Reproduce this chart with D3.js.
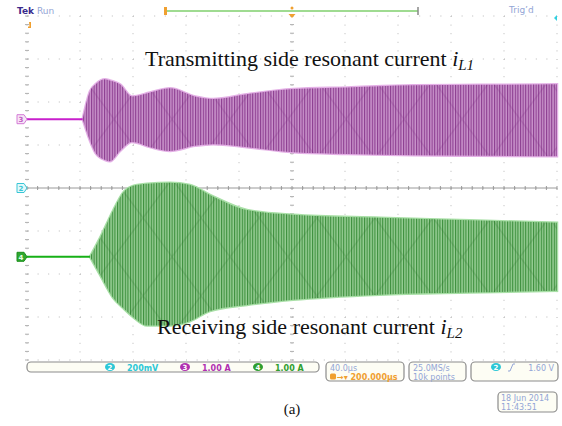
<!DOCTYPE html>
<html>
<head>
<meta charset="utf-8">
<script src="https://cdn.jsdelivr.net/npm/d3@7"></script>
<style>
  body { margin: 0; background: #fff; }
  svg { display: block; }
</style>
</head>
<body>
<div id="chart"></div>
<script>
// scope settings
var timePerDiv = 40;   // us / div
var ampPerDiv = 1.0;   // A / div (ch3, ch4)
var ch3Offset = 1.6;   // divisions above centre
var ch4Offset = -1.6;

// ch3 : transmitting side resonant current i_L1, envelope (us, A)
var ch3Time  = [42, 47.5, 52, 58.9, 62.6, 70.2, 79.2, 92.8, 107.9, 126.8, 140.4, 166, 200.8, 241.5, 291.3, 341.9, 400];
var ch3Upper = [0, 0.65, 0.82, 0.93, 0.9, 0.81, 0.53, 0.62, 0.72, 0.53, 0.47, 0.58, 0.70, 0.74, 0.79, 0.80, 0.81];
var ch3Lower = [0, -0.5, -0.8, -0.95, -0.98, -0.74, -0.53, -0.65, -0.74, -0.62, -0.58, -0.65, -0.77, -0.81, -0.84, -0.85, -0.86];

// ch4 : receiving side resonant current i_L2, envelope (us, A)
var ch4Time  = [47.5, 55.1, 64.9, 72.5, 80, 90.6, 107.9, 123, 138.1, 166, 200.8, 266.4, 334.3, 400];
var ch4Upper = [0, 0.44, 1.07, 1.49, 1.65, 1.7, 1.72, 1.67, 1.44, 1.09, 0.98, 0.91, 0.85, 0.79];
var ch4Lower = [0, -0.42, -0.95, -1.19, -1.4, -1.6, -1.6, -1.5, -1.26, -1.12, -1.0, -0.88, -0.83, -0.79];

// readouts
var chanReadouts = [
  {ch: "2", text: "200mV", color: "#2cc7d6"},
  {ch: "3", text: "1.00 A", color: "#b02fb0"},
  {ch: "4", text: "1.00 A", color: "#2f9e2f"}
];

var W = 562, H = 426;
var svg = d3.select("#chart").append("svg")
  .attr("width", W).attr("height", H)
  .style("font-family", "'DejaVu Sans', sans-serif");

svg.append("rect").attr("width", W).attr("height", H).attr("fill", "#fff");

var x = d3.scaleLinear().domain([0, 10 * timePerDiv]).range([27, 557]);
var y = d3.scaleLinear().domain([-4, 4]).range([360, 16]);

var divX = (x.range()[1] - x.range()[0]) / 10;
var divY = (y.range()[0] - y.range()[1]) / 8;

// patterns for the dense oscillation
var defs = svg.append("defs");
function stripes(id, bg, fg) {
  var p = defs.append("pattern").attr("id", id)
    .attr("patternUnits", "userSpaceOnUse").attr("width", 2.6).attr("height", 10);
  p.append("rect").attr("width", 2.6).attr("height", 10).attr("fill", bg);
  p.append("rect").attr("width", 1.1).attr("height", 10).attr("fill", fg);
}
stripes("st3", "#c993cb", "#8c3d90");
stripes("st4", "#96cd94", "#3c8f3c");

// aliasing beat (crossing diagonals)
function beat(id, offset, col) {
  var bw = 58, bh = 78;
  var p = defs.append("pattern").attr("id", id)
    .attr("patternUnits", "userSpaceOnUse").attr("width", bw).attr("height", bh)
    .attr("x", x(0)).attr("y", y(offset) - bh / 2);
  p.append("path").attr("d", "M0,0 L" + bw + "," + bh + " M0," + bh + " L" + bw + ",0")
    .attr("stroke", col).attr("stroke-width", 1.6).attr("fill", "none");
}
beat("bt3", ch3Offset, "rgba(120,40,125,0.2)");
beat("bt4", ch4Offset, "rgba(40,110,40,0.2)");

// graticule
var grid = svg.append("g");
d3.range(0, 11).forEach(function(i) {
  grid.append("line")
    .attr("x1", x(i * timePerDiv)).attr("x2", x(i * timePerDiv))
    .attr("y1", y(4)).attr("y2", y(-4))
    .attr("stroke", "#b8b8b8").attr("stroke-width", 1)
    .attr("stroke-dasharray", "1," + (divY / 5 - 1));
});
d3.range(-4, 5).forEach(function(j) {
  grid.append("line")
    .attr("x1", x(0)).attr("x2", x(400))
    .attr("y1", y(j)).attr("y2", y(j))
    .attr("stroke", "#b8b8b8").attr("stroke-width", 1)
    .attr("stroke-dasharray", "1," + (divX / 5 - 1));
});
// centre cross with minor ticks
grid.append("line")
  .attr("x1", x(0)).attr("x2", x(400)).attr("y1", y(0)).attr("y2", y(0))
  .attr("stroke", "#9a9a9a");
d3.range(0, 51).forEach(function(k) {
  grid.append("line")
    .attr("x1", x(0) + k * divX / 5).attr("x2", x(0) + k * divX / 5)
    .attr("y1", y(0) - 2).attr("y2", y(0) + 2)
    .attr("stroke", "#9a9a9a");
});
d3.range(0, 41).forEach(function(k) {
  [x(200), x(0)].forEach(function(cx) {
    grid.append("line")
      .attr("x1", cx - 2).attr("x2", cx + 2)
      .attr("y1", y(4) + k * divY / 5).attr("y2", y(4) + k * divY / 5)
      .attr("stroke", "#b0b0b0");
  });
});

// waveforms
function drawChannel(time, up, lo, offset, light, pat, bt, base) {
  var g = svg.append("g");
  var pts = time.map(function(t, i) { return {t: t, u: up[i], l: lo[i]}; });
  var area = d3.area()
    .x(function(d) { return x(d.t); })
    .y0(function(d) { return y(offset + d.l / ampPerDiv); })
    .y1(function(d) { return y(offset + d.u / ampPerDiv); })
    .curve(d3.curveMonotoneX);
  g.append("path").attr("d", area(pts))
    .attr("fill", light).attr("stroke", light).attr("stroke-width", 2.5);
  g.append("path").attr("d", area(pts))
    .attr("fill", "url(#" + pat + ")");
  g.append("path").attr("d", area(pts))
    .attr("fill", "url(#" + bt + ")");
  g.append("line")
    .attr("x1", x(0)).attr("x2", x(time[0]))
    .attr("y1", y(offset)).attr("y2", y(offset))
    .attr("stroke", base).attr("stroke-width", 2);
}
drawChannel(ch3Time, ch3Upper, ch3Lower, ch3Offset, "#e4b0e6", "st3", "bt3", "#c81fcc");
drawChannel(ch4Time, ch4Upper, ch4Lower, ch4Offset, "#a9e0a7", "st4", "bt4", "#16b016");

// channel markers on left
function marker(label, offset, stroke, fill, txt) {
  var g = svg.append("g").attr("transform", "translate(17," + y(offset) + ")");
  g.append("path")
    .attr("d", "M0,-4.5 H7 L10,0 L7,4.5 H0 Z")
    .attr("fill", fill).attr("stroke", stroke).attr("stroke-width", 1);
  g.append("text").attr("x", 4).attr("y", 3).attr("text-anchor", "middle")
    .attr("font-size", 7).attr("font-weight", "bold").attr("fill", txt).text(label);
}
marker("3", ch3Offset, "#d47ad6", "#f6e4f6", "#c060c2");
marker("2", 0, "#38c6d6", "#e4f8fa", "#38c6d6");
marker("4", ch4Offset, "#1d8f1d", "#2fa82f", "#e6ffe6");

// titles
function title(t1, sub, ty, tx) {
  var t = svg.append("text").attr("x", tx).attr("y", ty)
    .attr("font-family", "'Liberation Serif', 'Times New Roman', serif")
    .attr("font-size", 22).attr("fill", "#111");
  t.append("tspan").text(t1);
  t.append("tspan").attr("font-style", "italic").text("i");
  t.append("tspan").attr("font-style", "italic").attr("font-size", 15).attr("dy", 4).text(sub);
}
title("Transmitting side resonant current ", "L1", 66, 145);
title("Receiving side resonant current ", "L2", 334, 157);

// header
svg.append("text").attr("x", 17).attr("y", 14).attr("font-size", 9).attr("font-weight", "bold")
  .attr("fill", "#3a2a8c").text("Tek");
svg.append("text").attr("x", 37).attr("y", 14).attr("font-size", 9)
  .attr("fill", "#93a5d6").text("Run");
svg.append("text").attr("x", 509).attr("y", 13).attr("font-size", 9)
  .attr("fill", "#93a5d6").text("Trig\u2019d");
svg.append("line").attr("x1", 166).attr("x2", 418).attr("y1", 11).attr("y2", 11)
  .attr("stroke", "#7fcf6c").attr("stroke-width", 1.5);
svg.append("rect").attr("x", 164).attr("y", 7).attr("width", 3).attr("height", 8)
  .attr("fill", "#f0a030");
svg.append("line").attr("x1", 418).attr("x2", 418).attr("y1", 7).attr("y2", 15)
  .attr("stroke", "#888").attr("stroke-width", 1.5);
svg.append("circle").attr("cx", x(200)).attr("cy", 8).attr("r", 1.5).attr("fill", "#f0a030");
svg.append("path").attr("d", "M" + (x(200) - 3.5) + ",14 h7 l-3.5,4 z").attr("fill", "#f0a030");
svg.append("path").attr("d", "M29,22 h2 v6 h-3 v-1.5 h1.5 z").attr("fill", "#f0a030");
svg.append("path").attr("d", "M557,15 l-3,3 l3,3 z").attr("fill", "#30d0e0");

// status bar
function box(bx, by, bw, bh) {
  svg.append("rect").attr("x", bx).attr("y", by).attr("width", bw).attr("height", bh)
    .attr("rx", 4).attr("fill", "#fdfdf4").attr("stroke", "#8c8c8c").attr("stroke-width", 1.2);
}
box(27, 362, 292, 10);
var rx = [110, 185, 258];
chanReadouts.forEach(function(r, i) {
  svg.append("ellipse").attr("cx", rx[i]).attr("cy", 367).attr("rx", 5).attr("ry", 4)
    .attr("fill", r.color);
  svg.append("text").attr("x", rx[i]).attr("y", 370).attr("text-anchor", "middle")
    .attr("font-size", 7).attr("font-weight", "bold").attr("fill", "#fff").text(r.ch);
  svg.append("text").attr("x", rx[i] + 17).attr("y", 370.5)
    .attr("font-size", 8).attr("font-weight", "bold").attr("fill", r.color).text(r.text);
});

box(326, 362, 78, 19);
svg.append("text").attr("x", 330).attr("y", 370.5).attr("font-size", 8)
  .attr("fill", "#93a5d6").text("40.0\u00b5s");
svg.append("rect").attr("x", 330).attr("y", 373.5).attr("width", 6).attr("height", 6)
  .attr("rx", 1.5).attr("fill", "#f0a030");
svg.append("text").attr("x", 337).attr("y", 379.5).attr("font-size", 8).attr("font-weight", "bold")
  .attr("fill", "#f0a030").text("\u2192\u25be 200.000\u00b5s");

box(409, 362, 57, 19);
svg.append("text").attr("x", 413).attr("y", 370.5).attr("font-size", 8)
  .attr("fill", "#93a5d6").text("25.0MS/s");
svg.append("text").attr("x", 413).attr("y", 379.5).attr("font-size", 8)
  .attr("fill", "#93a5d6").text("10k points");

box(471, 362, 87, 19);
svg.append("ellipse").attr("cx", 496).attr("cy", 367).attr("rx", 5).attr("ry", 4).attr("fill", "#2cc7d6");
svg.append("text").attr("x", 496).attr("y", 370).attr("text-anchor", "middle")
  .attr("font-size", 7).attr("font-weight", "bold").attr("fill", "#fff").text("2");
svg.append("path").attr("d", "M508,371 h2 l3,-7 h2").attr("fill", "none")
  .attr("stroke", "#93a5d6").attr("stroke-width", 1);
svg.append("text").attr("x", 554).attr("y", 370.5).attr("text-anchor", "end").attr("font-size", 8)
  .attr("fill", "#93a5d6").text("1.60 V");

box(498, 392, 59, 20);
svg.append("text").attr("x", 501).attr("y", 400.5).attr("font-size", 8)
  .attr("fill", "#93a5d6").text("18 Jun  2014");
svg.append("text").attr("x", 501).attr("y", 409.5).attr("font-size", 8)
  .attr("fill", "#93a5d6").text("11:43:51");

svg.append("text").attr("x", 292).attr("y", 414).attr("text-anchor", "middle")
  .attr("font-family", "'Liberation Serif', 'Times New Roman', serif")
  .attr("font-size", 15).attr("fill", "#111").text("(a)");
</script>
</body>
</html>
